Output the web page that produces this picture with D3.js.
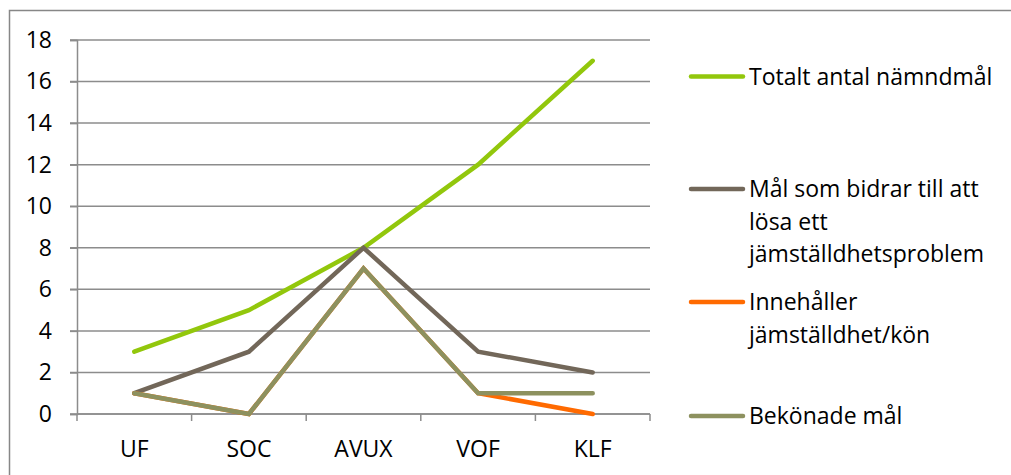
<!DOCTYPE html>
<html>
<head>
<meta charset="utf-8">
<script src="https://cdn.jsdelivr.net/npm/d3@7"></script>
<style>
  html, body { margin: 0; padding: 0; background: #fff; }
  svg { display: block; }
  text { font-family: "Open Sans", "Noto Sans", sans-serif; fill: #000; }
</style>
</head>
<body>
<svg id="chart" width="1011" height="475"></svg>
<script>
// Goal counts per committee
const categories = ["UF", "SOC", "AVUX", "VOF", "KLF"];
const totaltAntal = [3, 5, 8, 12, 17];
const bidrarTillLosning = [1, 3, 8, 3, 2];
const innehallerJamstalldhet = [1, 0, 7, 1, 0];
const bekonadeMal = [1, 0, 7, 1, 1];
const yTicks = [0, 2, 4, 6, 8, 10, 12, 14, 16, 18];

const seriesNames = [
  ["Totalt antal nämndmål"],
  ["Mål som bidrar till att", "lösa ett", "jämställdhetsproblem"],
  ["Innehåller", "jämställdhet/kön"],
  ["Bekönade mål"]
];
const seriesValues = [totaltAntal, bidrarTillLosning, innehallerJamstalldhet, bekonadeMal];
const seriesColors = ["#92c70c", "#726759", "#ff6a00", "#8d915f"];

const fontSize = "23px";
const svg = d3.select("#chart");

// outer frame (top and left edges visible in the canvas)
svg.append("rect")
  .attr("x", 9.5).attr("y", 10.5)
  .attr("width", 1020).attr("height", 480)
  .attr("fill", "none").attr("stroke", "#878787").attr("stroke-width", 1.5);

const plotLeft = 77, plotRight = 650, plotTop = 40, plotBottom = 414;

const x = d3.scaleBand().domain(categories).range([plotLeft, plotRight]);
const y = d3.scaleLinear().domain([0, 18]).range([plotBottom, plotTop]);

// horizontal gridlines
svg.append("g")
  .selectAll("line")
  .data(yTicks)
  .join("line")
  .attr("x1", plotLeft - 7).attr("x2", plotRight)
  .attr("y1", d => y(d)).attr("y2", d => y(d))
  .attr("stroke", "#8c8c8c").attr("stroke-width", 1.5);

// y axis
const yAxis = svg.append("g")
  .attr("transform", `translate(${plotLeft},0)`)
  .call(d3.axisLeft(y).tickValues(yTicks).tickSize(7).tickPadding(18));
yAxis.attr("font-size", null).attr("font-family", null);
yAxis.select(".domain").attr("stroke", "#8c8c8c").attr("stroke-width", 1.5);
yAxis.selectAll(".tick line").attr("stroke", "#8c8c8c").attr("stroke-width", 1.5);
yAxis.selectAll(".tick text")
  .style("font-size", fontSize)
  .attr("fill", "#000");

// x axis with boundary ticks
const xAxisG = svg.append("g").attr("transform", `translate(0,${plotBottom})`);
xAxisG.append("line")
  .attr("x1", plotLeft).attr("x2", plotRight)
  .attr("stroke", "#8c8c8c").attr("stroke-width", 1.5);
const boundaries = categories.map(c => x(c)).concat([x(categories[categories.length - 1]) + x.bandwidth()]);
xAxisG.selectAll("line.bt")
  .data(boundaries)
  .join("line")
  .attr("class", "bt")
  .attr("x1", d => d).attr("x2", d => d)
  .attr("y1", 0).attr("y2", 7)
  .attr("stroke", "#8c8c8c").attr("stroke-width", 1.5);
xAxisG.selectAll("text")
  .data(categories)
  .join("text")
  .attr("x", d => x(d) + x.bandwidth() / 2)
  .attr("y", 43)
  .attr("text-anchor", "middle")
  .style("font-size", fontSize)
  .text(d => d);

// series lines
const line = d3.line()
  .x((d, i) => x(categories[i]) + x.bandwidth() / 2)
  .y(d => y(d));

svg.append("g")
  .selectAll("path")
  .data(seriesValues)
  .join("path")
  .attr("d", d => line(d))
  .attr("fill", "none")
  .attr("stroke", (d, i) => seriesColors[i])
  .attr("stroke-width", 4.5)
  .attr("stroke-linejoin", "miter")
  .attr("stroke-linecap", "round");

// legend
const legendY = [76.5, 189, 302, 416];
const legend = svg.append("g");
seriesNames.forEach((lines, i) => {
  const g = legend.append("g").attr("transform", `translate(0,${legendY[i]})`);
  g.append("line")
    .attr("x1", 691).attr("x2", 743)
    .attr("y1", 0).attr("y2", 0)
    .attr("stroke", seriesColors[i]).attr("stroke-width", 4.5)
    .attr("stroke-linecap", "round");
  lines.forEach((t, k) => {
    g.append("text")
      .attr("x", 749)
      .attr("y", k * 32.5)
      .attr("dy", "0.36em")
      .style("font-size", fontSize)
      .text(t);
  });
});
</script>
</body>
</html>
